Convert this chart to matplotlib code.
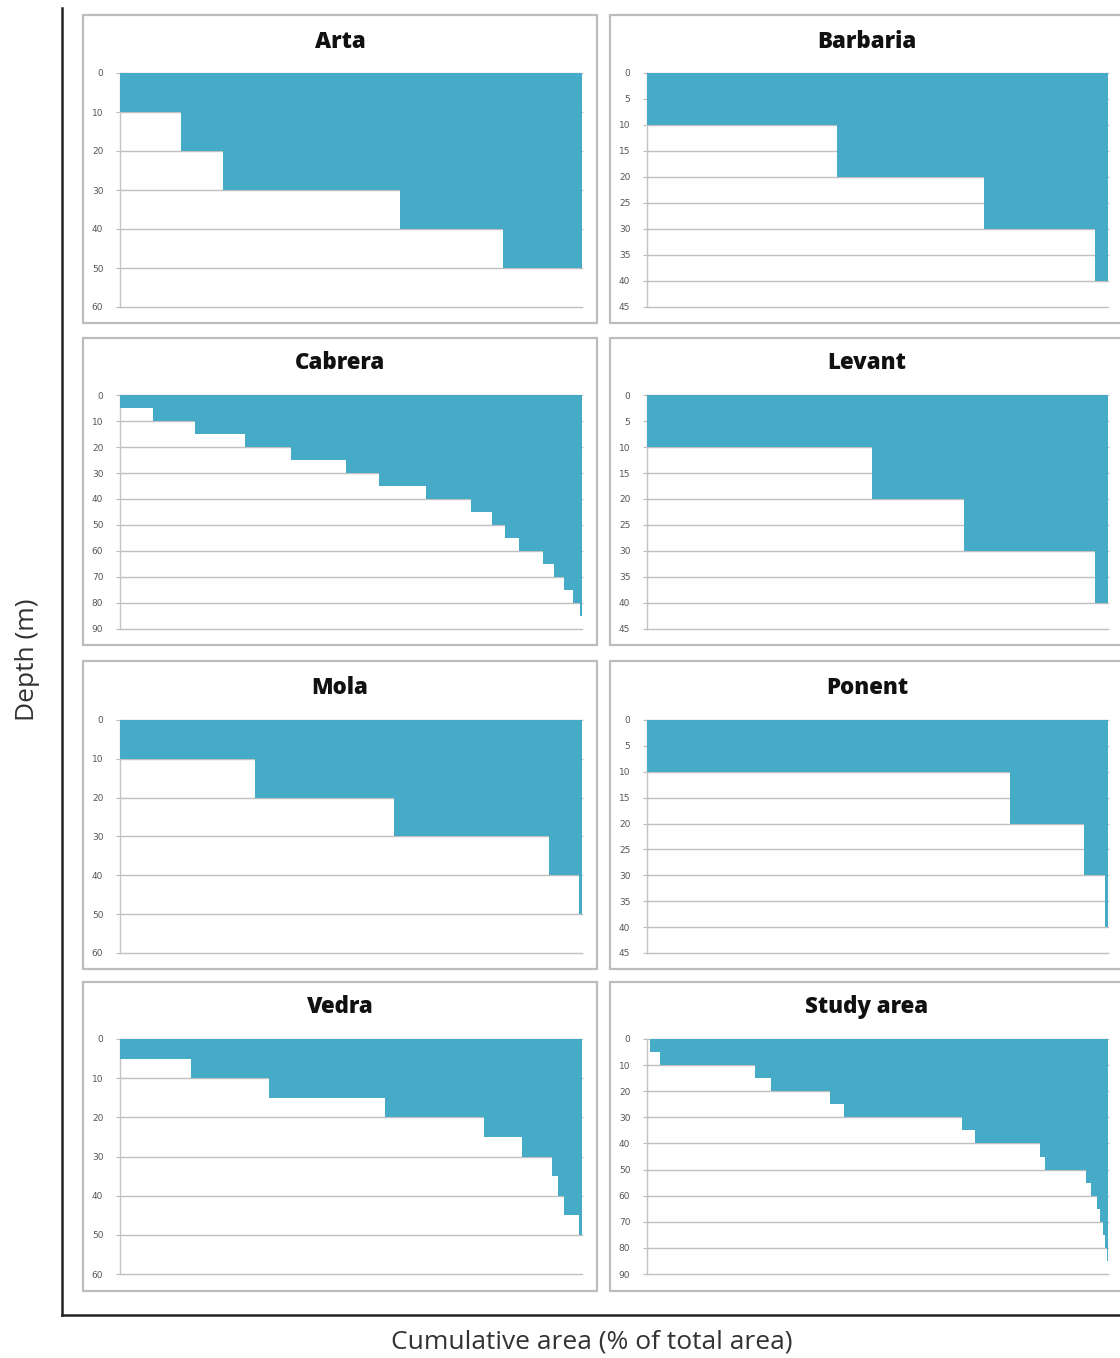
import matplotlib
matplotlib.use("Agg")
import matplotlib.pyplot as plt
from matplotlib.patches import Rectangle

# ---- data: cumulative area (% of total) reached at the top of each depth bin ----
sites = ["Arta", "Barbaria", "Cabrera", "Levant", "Mola", "Ponent", "Vedra", "Study area"]

arta_tops = [0, 10, 20, 30, 40]
arta_cum = [0, 13.2, 22.2, 60.6, 83.0]

barbaria_tops = [0, 10, 20, 30]
barbaria_cum = [0, 41.2, 73.1, 97.1]

cabrera_tops = [0, 5, 10, 15, 20, 25, 30, 35, 40, 45, 50, 55, 60, 65, 70, 75, 80]
cabrera_cum = [0, 7.1, 16.2, 27.1, 37.0, 48.9, 56.0, 66.3, 76.0, 80.6, 83.4, 86.3,
               91.5, 93.9, 96.2, 98.1, 99.6]

levant_tops = [0, 10, 20, 30]
levant_cum = [0, 48.7, 68.7, 97.1]

mola_tops = [0, 10, 20, 30, 40]
mola_cum = [0, 29.2, 59.2, 92.8, 99.3]

ponent_tops = [0, 10, 20, 30]
ponent_cum = [0, 78.8, 94.9, 99.3]

vedra_tops = [0, 5, 10, 15, 20, 25, 30, 35, 40, 45]
vedra_cum = [0, 15.4, 32.3, 57.4, 78.7, 87.0, 93.5, 94.9, 96.2, 99.4]

study_tops = [0, 5, 10, 15, 20, 25, 30, 35, 40, 45, 50, 55, 60, 65, 70, 75, 80]
study_cum = [0.6, 2.9, 23.5, 26.9, 39.7, 42.8, 68.4, 71.1, 85.2, 86.3, 95.3, 96.4,
             97.6, 98.3, 98.9, 99.4, 99.8]

bin_widths = [10, 10, 5, 10, 10, 10, 5, 5]
depth_max = [60, 45, 90, 45, 60, 45, 60, 90]
tick_steps = [10, 5, 10, 5, 10, 5, 10, 10]

all_tops = [arta_tops, barbaria_tops, cabrera_tops, levant_tops,
            mola_tops, ponent_tops, vedra_tops, study_tops]
all_cum = [arta_cum, barbaria_cum, cabrera_cum, levant_cum,
           mola_cum, ponent_cum, vedra_cum, study_cum]

BLUE = "#46abc6"
W, H = 1120, 1358

fig = plt.figure(figsize=(W / 100, H / 100), dpi=100)
fig.patch.set_facecolor("white")


def fx(px):
    return px / W


def fy(py):
    return 1 - py / H


# outer L-shaped frame
outer = fig.add_axes([fx(62), fy(1315), fx(W - 62 + 5), (1315 - 8) / H])
outer.set_xticks([])
outer.set_yticks([])
outer.patch.set_alpha(0)
for s in ("top", "right"):
    outer.spines[s].set_visible(False)
for s in ("left", "bottom"):
    outer.spines[s].set_color("#222222")
    outer.spines[s].set_linewidth(1.8)

# panel geometry (pixels)
col_box = [(83, 597), (610, 1130)]
col_plot = [(120, 582), (647, 1108)]
row_box = [(15, 323), (338, 645), (661, 969), (982, 1291)]
row_plot = [(73, 307), (395, 629), (720, 953), (1039, 1274)]
title_y = [42, 363, 688, 1007]
title_x = [340, 867]

for i, name in enumerate(sites):
    r, c = divmod(i, 2)
    bx0, bx1 = col_box[c]
    by0, by1 = row_box[r]
    fig.patches.append(Rectangle((fx(bx0), fy(by1)), fx(bx1 - bx0), (by1 - by0) / H,
                                 transform=fig.transFigure, facecolor="white",
                                 edgecolor="#bdbdbd", linewidth=1.6, zorder=1))

    px0, px1 = col_plot[c]
    py0, py1 = row_plot[r]
    ax = fig.add_axes([fx(px0), fy(py1), fx(px1 - px0), (py1 - py0) / H], zorder=2)
    ax.patch.set_alpha(0)

    tops = all_tops[i]
    cum = all_cum[i]
    widths = [100 - v for v in cum]
    ax.barh(tops, widths, left=cum, height=bin_widths[i], align="edge",
            color=BLUE, edgecolor="none", zorder=3)

    ax.set_xlim(0, 100)
    ax.set_ylim(depth_max[i], 0)
    ticks = list(range(0, depth_max[i] + 1, tick_steps[i]))
    ax.set_yticks(ticks)
    ax.set_yticklabels([str(t) for t in ticks], fontsize=6.5, color="#555555")
    ax.tick_params(axis="y", length=3, width=0.8, color="#bbbbbb", pad=9)
    ax.set_xticks([])
    ax.grid(axis="y", color="#bfbfbf", linewidth=1.0, zorder=1)
    ax.set_axisbelow(True)
    for gl in ax.get_ygridlines():
        gl.set_clip_on(False)
    for s in ("top", "right", "bottom"):
        ax.spines[s].set_visible(False)
    ax.spines["left"].set_color("#c4c4c4")
    ax.spines["left"].set_linewidth(1.0)

    fig.text(fx(title_x[c]), fy(title_y[r]), name, ha="center", va="center",
             fontsize=16, fontweight="heavy", family="Open Sans", color="#111111",
             zorder=5)

fig.text(fx(28), fy(660), "Depth (m)", rotation=90, ha="center", va="center",
         fontsize=19, family="Open Sans", color="#333333")
fig.text(fx(592), fy(1342), "Cumulative area (% of total area)", ha="center",
         va="center", fontsize=19, family="Open Sans", color="#333333")

fig.savefig("out.png", dpi=100, facecolor="white")
